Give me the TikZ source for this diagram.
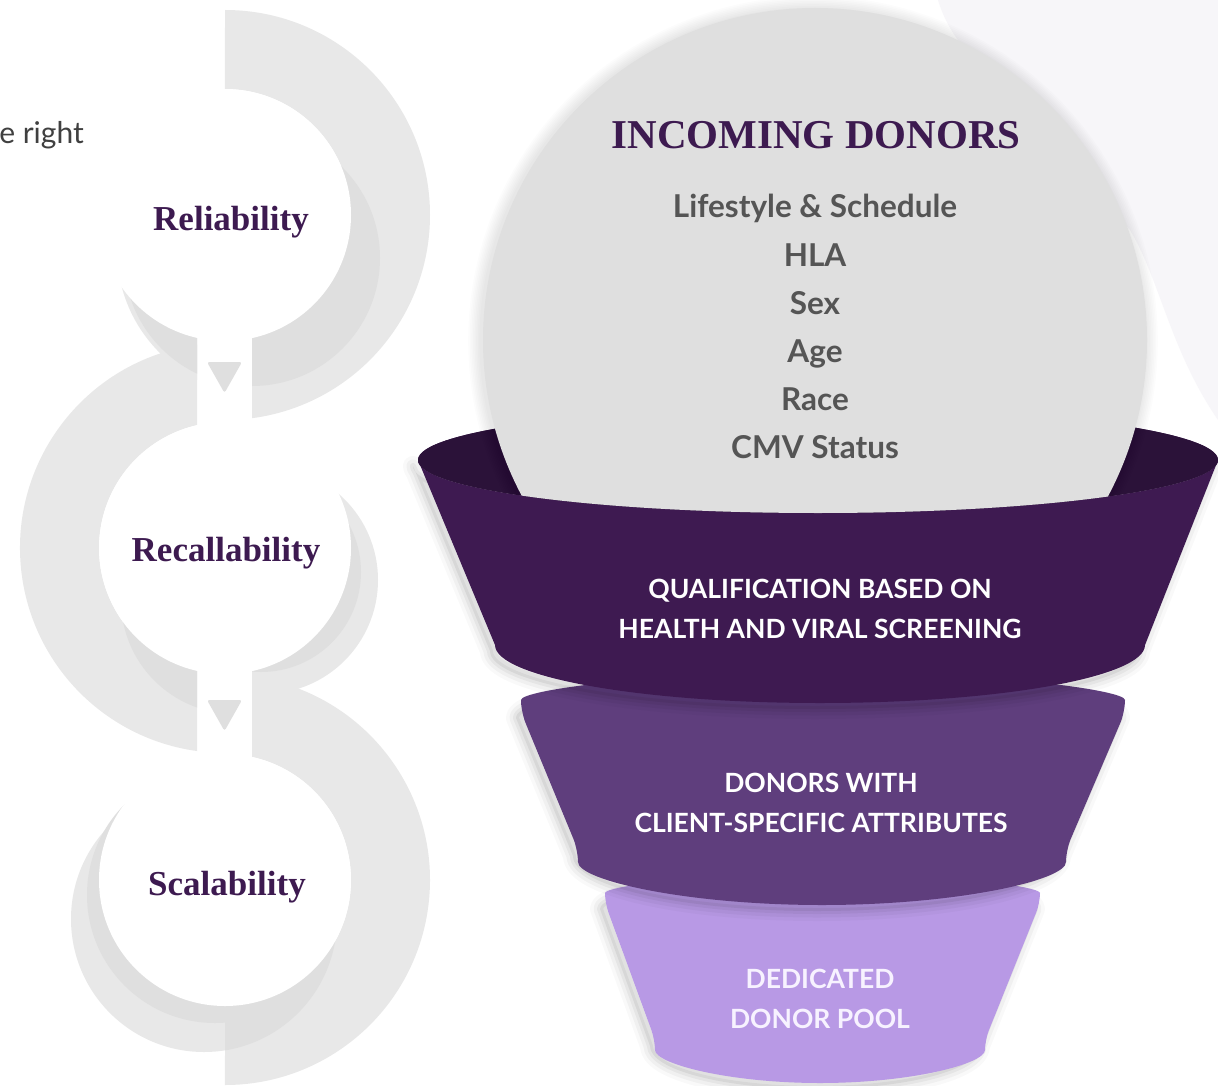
\documentclass[tikz,border=0pt]{standalone}
\usepackage{fontspec}
\newfontfamily\latof{Lato}
\newfontfamily\serf{Liberation Serif}
\definecolor{ringlight}{HTML}{E8E8E8}
\definecolor{ringdark}{HTML}{DFDFDF}
\definecolor{dpurple}{HTML}{3D1A50}
\definecolor{bandone}{HTML}{3E1A51}
\definecolor{rimin}{HTML}{2B1239}
\definecolor{bandtwo}{HTML}{5F3E7D}
\definecolor{bandthree}{HTML}{B899E5}
\definecolor{sphere}{HTML}{DFDFDF}
\definecolor{txtgray}{HTML}{555555}
\definecolor{texturec}{HTML}{F7F6F9}
\definecolor{pooltxt}{HTML}{F7F2FF}
\newcommand\softshadow[1]{%
  \begin{scope}[shift={(-5,6)}]
    \foreach \w/\o in {20/0.025,13/0.035,6/0.045}{\draw[black,opacity=\o,line width=\w pt,line join=round] #1;}
    \fill[black,opacity=0.06] #1;
  \end{scope}}
\begin{document}
\begin{tikzpicture}[x=1pt,y=-1pt,
  graytxt/.style={font=\latof\bfseries\fontsize{31.5}{36}\selectfont, text=txtgray, anchor=base, inner sep=0pt},
  bandtxt/.style={font=\latof\bfseries\fontsize{26.5}{30}\selectfont, text=white, anchor=base, inner sep=0pt},
  ringtxt/.style={font=\serf\bfseries\fontsize{35}{42}\selectfont, text=dpurple, anchor=base, inner sep=0pt},
  titletxt/.style={font=\serf\bfseries\fontsize{41}{48}\selectfont, text=dpurple, anchor=base, inner sep=0pt}]
\useasboundingbox[fill=white] (0,0) rectangle (1218,1086);

% ---------- left: three linked rings ----------
% light shadow crescents on the background
\begin{scope}\clip (0,0) rectangle (197,1086);
  \fill[ringlight] (262,250) circle[radius=145];
\end{scope}
\begin{scope}\clip (252,0) rectangle (470,1086);
  \fill[ringlight] (264,580) circle[radius=114];
\end{scope}
\begin{scope}\clip (0,0) rectangle (225,1086);
  \fill[ringlight] (204,919) circle[radius=133];
\end{scope}
% rings
\fill[ringlight] (225,10) arc[start angle=-90,end angle=82.43,radius=205]
  -- (252,338.07) arc[start angle=77.62,end angle=-90,radius=126] -- cycle;
\fill[ringlight] (197,344.9) arc[start angle=262.15,end angle=97.85,radius=205]
  -- (197,670.85) arc[start angle=102.84,end angle=257.16,radius=126] -- cycle;
\fill[ringlight] (252,676.8) arc[start angle=-82.43,end angle=90,radius=205]
  -- (225,1006) arc[start angle=90,end angle=-77.62,radius=126] -- cycle;
% dark shadow crescents
\begin{scope}\clip (0,0) rectangle (197,1086);
  \fill[ringdark] (252,258) circle[radius=128];
  \fill[ringdark] (235,600) circle[radius=114];
\end{scope}
\begin{scope}\clip (252,0) rectangle (470,1086);
  \fill[ringdark] (252,258) circle[radius=128];
  \fill[ringdark] (261,572) circle[radius=100];
\end{scope}
\begin{scope}\clip (0,0) rectangle (225,1086);
  \fill[ringdark] (215,895) circle[radius=128];
\end{scope}
\begin{scope}\clip (225,0) rectangle (470,1086);
  \fill[ringdark] (204,919) circle[radius=133];
\end{scope}
% white discs
\fill[white] (225,215) circle[radius=126];
\fill[white] (225,548) circle[radius=126];
\fill[white] (225,880) circle[radius=126];
% small arrow triangles
\fill[ringdark, rounded corners=2.5pt] (207,362) -- (242,362) -- (224.5,393) -- cycle;
\fill[ringdark, rounded corners=2.5pt] (207,700) -- (242,700) -- (224.5,731) -- cycle;

\node[ringtxt] (rel) at (231,231) {Reliability};
\node[ringtxt] (rec) at (226,561) {Recallability};
\node[ringtxt] (sca) at (227,895) {Scalability};
\node[font=\latof\fontsize{30}{36}\selectfont, text=black!75, anchor=base east, inner sep=0pt] (right) at (84,144) {e right};

% ---------- right: funnel ----------
\fill[texturec] (938,0) .. controls (950,40) and (980,70) .. (1020,95)
  -- (1130,230) .. controls (1160,280) and (1170,350) .. (1218,420) -- (1218,0) -- cycle;

\def\bandThree{(605,903) -- (655,1040) arc[start angle=180,end angle=0,x radius=165,y radius=43]
  -- (1040,903) arc[start angle=0,end angle=-180,x radius=217.5,y radius=30] -- cycle}
\def\bandTwo{(521,712) -- (578,850) arc[start angle=180,end angle=0,x radius=244,y radius=55]
  -- (1125,712) arc[start angle=0,end angle=-180,x radius=302,y radius=40] -- cycle}
\def\bandOneP{(418,460) -- (495,645) arc[start angle=180,end angle=0,x radius=325,y radius=58]
  -- (1218,460) arc[start angle=0,end angle=180,x radius=400,y radius=53] -- cycle}

\softshadow{\bandThree}
\fill[bandthree, rounded corners=10pt] \bandThree;
\softshadow{\bandTwo}
\fill[bandtwo, rounded corners=12pt] \bandTwo;
\softshadow{\bandOneP}
\fill[bandone] (818,460) circle[x radius=400,y radius=53];
\fill[bandone] \bandOneP;
% inside of the funnel mouth
\fill[rimin] (818,460) circle[x radius=400,y radius=53];
% sphere, cut at the front rim
\begin{scope}
  \clip (1218,460) arc[start angle=0,end angle=180,x radius=400,y radius=53]
    -- (0,460) -- (0,0) -- (1218,0) -- cycle;
  \foreach \i in {1,...,8}{\fill[black,opacity=0.012] (813,341) circle[radius=332+1.6*\i];}
  \fill[sphere] (815,340) circle[radius=332];
\end{scope}

\node[titletxt] (title) at (816,149) {INCOMING DONORS};
\node[graytxt] (a1) at (815,218) {Lifestyle \& Schedule};
\node[graytxt] (a2) at (815,266) {HLA};
\node[graytxt] (a3) at (815,314) {Sex};
\node[graytxt] (a4) at (815,362) {Age};
\node[graytxt] (a5) at (815,410) {Race};
\node[graytxt] (a6) at (815,458) {CMV Status};

\node[bandtxt] (q1) at (820,598) {QUALIFICATION BASED ON};
\node[bandtxt] (q2) at (820,638) {HEALTH AND VIRAL SCREENING};
\node[bandtxt] (d1) at (821,792) {DONORS WITH};
\node[bandtxt] (d2) at (821,832) {CLIENT-SPECIFIC ATTRIBUTES};
\node[bandtxt, text=pooltxt] (p1) at (820,988) {DEDICATED};
\node[bandtxt, text=pooltxt] (p2) at (820,1028) {DONOR POOL};
\end{tikzpicture}
\end{document}
